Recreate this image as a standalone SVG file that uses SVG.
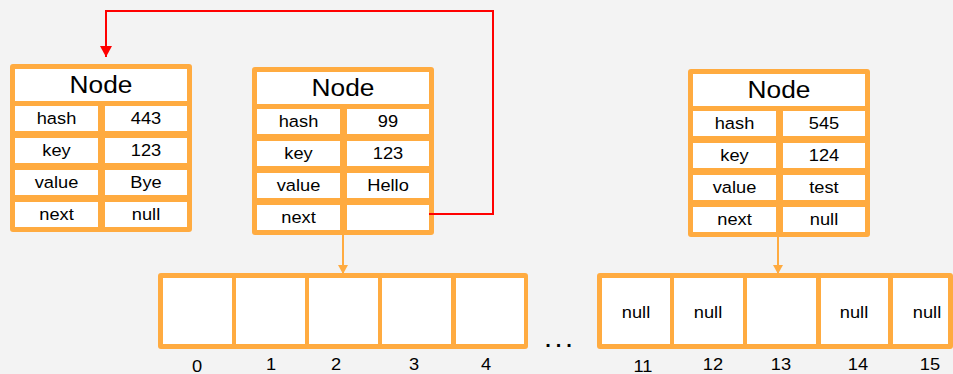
<svg xmlns="http://www.w3.org/2000/svg" width="953" height="374" viewBox="0 0 953 374">
  <style>
    .frame { fill: #ffab40; }
    .cell { fill: #ffffff; }
    .title, .lbl { font-family: "Liberation Sans", Arial, sans-serif; fill: #000; text-anchor: middle;
      transform-box: fill-box; transform-origin: center; transform: scaleX(1.12); }
    .title { font-size: 23.5px; }
    .lbl { font-size: 16.3px; }
    .link { fill: none; stroke: #ff0000; stroke-width: 2; }
    .ptr { fill: none; stroke: #ffab40; stroke-width: 2; }
  </style>
  <defs>
    <marker id="redHead" markerUnits="userSpaceOnUse" markerWidth="12" markerHeight="12" viewBox="0 0 12 12" refX="11" refY="6" orient="auto">
      <path d="M0,0 L11,6 L0,12 Z" fill="#ff0000"/>
    </marker>
    <marker id="orangeHead" markerUnits="userSpaceOnUse" markerWidth="10" markerHeight="10" viewBox="0 0 10 10" refX="9" refY="5" orient="auto">
      <path d="M0,0 L9,5 L0,10 Z" fill="#ffab40"/>
    </marker>
    <!-- one Node record: title plus four field rows -->
    <g id="nodeFrame">
      <rect class="frame" x="0" y="0" width="182" height="168" rx="3"/>
      <rect class="cell" x="5" y="5" width="172" height="32"/>
      <rect class="cell" x="5" y="42" width="83" height="25"/>
      <rect class="cell" x="95" y="42" width="82" height="25"/>
      <rect class="cell" x="5" y="74" width="83" height="25"/>
      <rect class="cell" x="95" y="74" width="82" height="25"/>
      <rect class="cell" x="5" y="106" width="83" height="25"/>
      <rect class="cell" x="95" y="106" width="82" height="25"/>
      <rect class="cell" x="5" y="138" width="83" height="25"/>
      <rect class="cell" x="95" y="138" width="82" height="25"/>
      <text class="title" x="91" y="29.5">Node</text>
      <text class="lbl" x="46.5" y="60.5">hash</text>
      <text class="lbl" x="46.5" y="92.5">key</text>
      <text class="lbl" x="46.5" y="124.5">value</text>
      <text class="lbl" x="46.5" y="156.5">next</text>
    </g>
  </defs>
  <rect width="953" height="374" fill="#f3f3f3"/>

  <g id="node-bye" transform="translate(10,64)">
    <use href="#nodeFrame"/>
    <text class="lbl" x="136" y="60.5">443</text>
    <text class="lbl" x="136" y="92.5">123</text>
    <text class="lbl" x="136" y="124.5">Bye</text>
    <text class="lbl" x="136" y="156.5">null</text>
  </g>

  <g id="node-hello" transform="translate(252,67)">
    <use href="#nodeFrame"/>
    <text class="lbl" x="136" y="60.5">99</text>
    <text class="lbl" x="136" y="92.5">123</text>
    <text class="lbl" x="136" y="124.5">Hello</text>
  </g>

  <g id="node-test" transform="translate(688,69)">
    <use href="#nodeFrame"/>
    <text class="lbl" x="136" y="60.5">545</text>
    <text class="lbl" x="136" y="92.5">124</text>
    <text class="lbl" x="136" y="124.5">test</text>
    <text class="lbl" x="136" y="156.5">null</text>
  </g>

  <g id="table-low">
    <rect class="frame" x="158" y="273" width="370" height="76" rx="3"/>
    <rect class="cell" x="163" y="278" width="69" height="66"/>
    <rect class="cell" x="236" y="278" width="69" height="66"/>
    <rect class="cell" x="309" y="278" width="69" height="66"/>
    <rect class="cell" x="382" y="278" width="69" height="66"/>
    <rect class="cell" x="456" y="278" width="68" height="66"/>
    <text class="lbl" x="197" y="372">0</text>
    <text class="lbl" x="271" y="370">1</text>
    <text class="lbl" x="336" y="370">2</text>
    <text class="lbl" x="414" y="370">3</text>
    <text class="lbl" x="486" y="370">4</text>
  </g>

  <text id="ellipsis" x="561" y="347" style="font-family:'Liberation Sans', Arial, sans-serif; font-size:20px; font-weight:bold; letter-spacing:5px; text-anchor:middle; fill:#000">...</text>

  <g id="table-high">
    <rect class="frame" x="597" y="273" width="356" height="76" rx="3"/>
    <rect class="cell" x="602" y="278" width="68" height="66"/>
    <rect class="cell" x="674" y="278" width="69" height="66"/>
    <rect class="cell" x="747" y="278" width="69" height="66"/>
    <rect class="cell" x="821" y="278" width="67" height="66"/>
    <rect class="cell" x="893" y="278" width="55" height="66"/>
    <text class="lbl" x="636" y="318">null</text>
    <text class="lbl" x="708" y="318">null</text>
    <text class="lbl" x="854" y="318">null</text>
    <text class="lbl" x="927" y="318">null</text>
    <text class="lbl" x="643" y="372">11</text>
    <text class="lbl" x="713" y="370">12</text>
    <text class="lbl" x="781" y="370">13</text>
    <text class="lbl" x="858" y="370">14</text>
    <text class="lbl" x="930" y="370">15</text>
  </g>

  <g id="connectors">
    <path class="link" d="M429,214 H493 V11 H106 V57" marker-end="url(#redHead)"/>
    <path class="ptr" d="M343,234 V274" marker-end="url(#orangeHead)"/>
    <path class="ptr" d="M778,237 V274" marker-end="url(#orangeHead)"/>
  </g>
</svg>
